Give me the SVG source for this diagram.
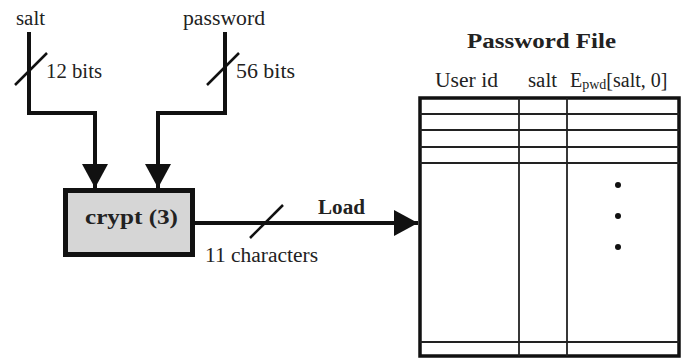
<svg xmlns="http://www.w3.org/2000/svg" width="683" height="360" viewBox="0 0 683 360">
<style>
text{font-family:"Liberation Serif","Times New Roman",serif;fill:#222;font-size:20px}
.b{font-weight:bold}
.wire{fill:none;stroke:#111;stroke-width:4}
.slash{stroke:#111;stroke-width:2.5}
.thin{stroke:#222;stroke-width:1.8}
</style>
<defs>
<marker id="ah" markerUnits="userSpaceOnUse" markerWidth="26" markerHeight="26" viewBox="0 0 24 26" refX="24" refY="13" orient="auto">
<path d="M0,0 L24,13 L0,26 Z" fill="#111"/>
</marker>
</defs>
<rect width="683" height="360" fill="#fff"/>
<g id="connectors">
<path class="wire" d="M29,32 V113 H95 V188" marker-end="url(#ah)"/>
<line class="slash" x1="15" y1="85" x2="47" y2="53"/>
<path class="wire" d="M225,32 V113 H158 V188" marker-end="url(#ah)"/>
<line class="slash" x1="207" y1="85" x2="239" y2="53"/>
<line class="wire" x1="195" y1="223" x2="418" y2="223" marker-end="url(#ah)"/>
<line class="slash" x1="250" y1="238" x2="283" y2="205"/>
</g>
<g id="labels">
<text x="16" y="25" textLength="29" lengthAdjust="spacingAndGlyphs">salt</text>
<text x="46" y="78" textLength="56" lengthAdjust="spacingAndGlyphs">12 bits</text>
<text x="183" y="25" textLength="82" lengthAdjust="spacingAndGlyphs">password</text>
<text x="236" y="78" textLength="59" lengthAdjust="spacingAndGlyphs">56 bits</text>
<text class="b" x="318" y="214" textLength="47" lengthAdjust="spacingAndGlyphs">Load</text>
<text x="205" y="262" textLength="113" lengthAdjust="spacingAndGlyphs">11 characters</text>
</g>
<g id="crypt">
<rect x="65.5" y="190.5" width="127" height="64" fill="#d6d6d6" stroke="#111" stroke-width="5"/>
<text class="b" x="85" y="224" font-size="21" textLength="93" lengthAdjust="spacingAndGlyphs">crypt (3)</text>
</g>
<g id="password-file">
<text class="b" x="467" y="48" font-size="23" textLength="149" lengthAdjust="spacingAndGlyphs">Password File</text>
<text x="435" y="87" textLength="63" lengthAdjust="spacingAndGlyphs">User id</text>
<text x="528" y="87" textLength="29" lengthAdjust="spacingAndGlyphs">salt</text>
<text x="570" y="87">E<tspan font-size="14" dy="2">pwd</tspan><tspan dy="-2">[salt, 0]</tspan></text>
<rect x="420" y="98" width="259" height="258" fill="#fff" stroke="#111" stroke-width="3.5"/>
<line class="thin" x1="420" y1="114" x2="679" y2="114"/>
<line class="thin" x1="420" y1="130" x2="679" y2="130"/>
<line class="thin" x1="420" y1="147" x2="679" y2="147"/>
<line class="thin" x1="420" y1="163" x2="679" y2="163"/>
<line class="thin" x1="420" y1="342" x2="679" y2="342"/>
<line class="thin" x1="519" y1="98" x2="519" y2="356"/>
<line class="thin" x1="567" y1="98" x2="567" y2="356"/>
<circle cx="618" cy="185" r="3" fill="#111"/>
<circle cx="618" cy="216" r="3" fill="#111"/>
<circle cx="618" cy="247" r="3" fill="#111"/>
</g>
</svg>
